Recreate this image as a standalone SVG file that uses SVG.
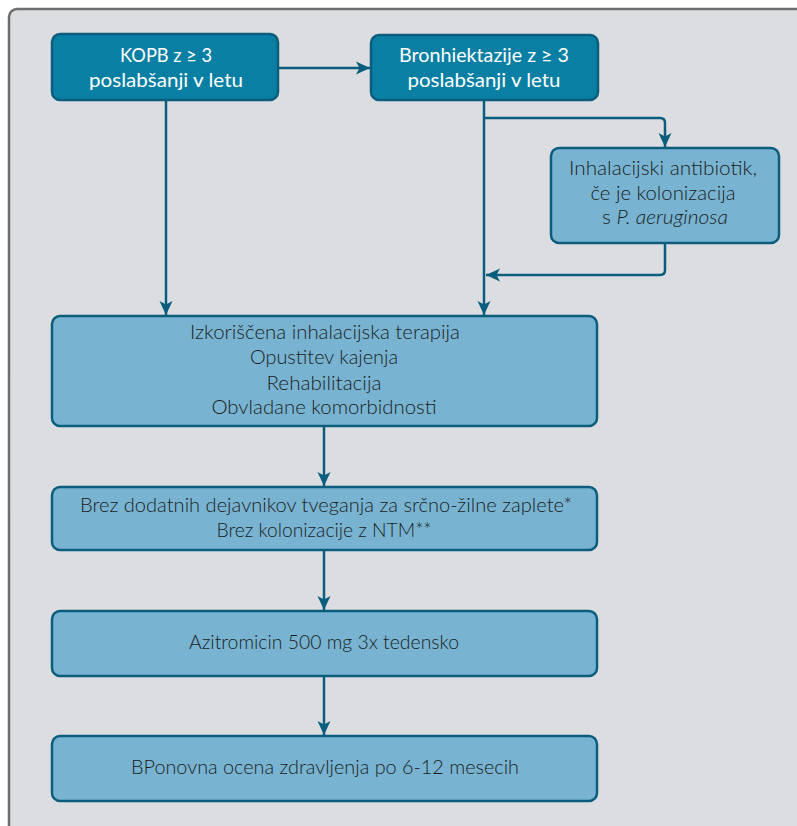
<svg xmlns="http://www.w3.org/2000/svg" width="797" height="826" viewBox="0 0 797 826">
<defs>
<style>
.frame{fill:#dcdde0;stroke:#6d6d70;stroke-width:2.5}
.dark{fill:#0a7fa4;stroke:#0b5d7d;stroke-width:2.5}
.light{fill:#78b4d1;stroke:#0b5d7d;stroke-width:2.5}
.conn{fill:none;stroke:#0b5d7d;stroke-width:2.5}
text{font-family:Lato,"Liberation Sans",sans-serif;font-size:20px;text-anchor:middle}
.w{fill:#ffffff}
.k{fill:#1c1c1c;font-weight:300}
</style>
<marker id="arr" markerUnits="userSpaceOnUse" markerWidth="16" markerHeight="16" viewBox="0 0 16 16" refX="15" refY="8" orient="auto">
<path d="M1,1.5 L15,8 L1,14.5 L4.5,8 Z" fill="#0b5d7d"/>
</marker>
</defs>
<rect x="0" y="0" width="797" height="826" fill="#ffffff"/>
<rect class="frame" x="9" y="9" width="810" height="840" rx="8"/>

<g id="connectors">
<path class="conn" d="M278,68 H370" marker-end="url(#arr)"/>
<path class="conn" d="M166,100 V315" marker-end="url(#arr)"/>
<path class="conn" d="M484,100 V315" marker-end="url(#arr)"/>
<path class="conn" d="M484,118 H660 Q665,118 665,123 V147" marker-end="url(#arr)"/>
<path class="conn" d="M665,243 V270 Q665,275 660,275 H486" marker-end="url(#arr)"/>
<path class="conn" d="M324,426 V486" marker-end="url(#arr)"/>
<path class="conn" d="M324,550 V610" marker-end="url(#arr)"/>
<path class="conn" d="M324,676 V735" marker-end="url(#arr)"/>
</g>

<g id="kopb">
<rect class="dark" x="52" y="34" width="226" height="66" rx="8"/>
<text class="w" x="166" y="62" textLength="92" lengthAdjust="spacingAndGlyphs">KOPB z ≥ 3</text>
<text class="w" x="166" y="87" textLength="154" lengthAdjust="spacingAndGlyphs">poslabšanji v letu</text>
</g>

<g id="bronh">
<rect class="dark" x="371" y="35" width="227" height="65" rx="8"/>
<text class="w" x="484" y="62" textLength="170" lengthAdjust="spacingAndGlyphs">Bronhiektazije z ≥ 3</text>
<text class="w" x="484" y="87" textLength="153" lengthAdjust="spacingAndGlyphs">poslabšanji v letu</text>
</g>

<g id="inhal">
<rect class="light" x="551" y="148" width="228" height="95" rx="8"/>
<text class="k" x="663" y="175" textLength="188" lengthAdjust="spacingAndGlyphs">Inhalacijski antibiotik,</text>
<text class="k" x="663" y="200" textLength="145" lengthAdjust="spacingAndGlyphs">če je kolonizacija</text>
<text class="k" x="665" y="224" textLength="126" lengthAdjust="spacingAndGlyphs">s <tspan font-style="italic">P. aeruginosa</tspan></text>
</g>

<g id="terapija">
<rect class="light" x="52" y="316" width="545" height="110" rx="8"/>
<text class="k" x="325" y="339" textLength="270" lengthAdjust="spacingAndGlyphs">Izkoriščena inhalacijska terapija</text>
<text class="k" x="324" y="364" textLength="148" lengthAdjust="spacingAndGlyphs">Opustitev kajenja</text>
<text class="k" x="324" y="390" textLength="115" lengthAdjust="spacingAndGlyphs">Rehabilitacija</text>
<text class="k" x="324" y="414" textLength="225" lengthAdjust="spacingAndGlyphs">Obvladane komorbidnosti</text>
</g>

<g id="brez">
<rect class="light" x="52" y="487" width="545" height="63" rx="8"/>
<text class="k" x="326" y="512" textLength="492" lengthAdjust="spacingAndGlyphs">Brez dodatnih dejavnikov tveganja za srčno-žilne zaplete*</text>
<text class="k" x="324" y="537" textLength="215" lengthAdjust="spacingAndGlyphs">Brez kolonizacije z NTM**</text>
</g>

<g id="azitro">
<rect class="light" x="52" y="611" width="545" height="65" rx="8"/>
<text class="k" x="324" y="649" textLength="270" lengthAdjust="spacingAndGlyphs">Azitromicin 500 mg 3x tedensko</text>
</g>

<g id="ponovna">
<rect class="light" x="52" y="736" width="545" height="65" rx="8"/>
<text class="k" x="325" y="774" textLength="388" lengthAdjust="spacingAndGlyphs">BPonovna ocena zdravljenja po 6-12 mesecih</text>
</g>
</svg>
